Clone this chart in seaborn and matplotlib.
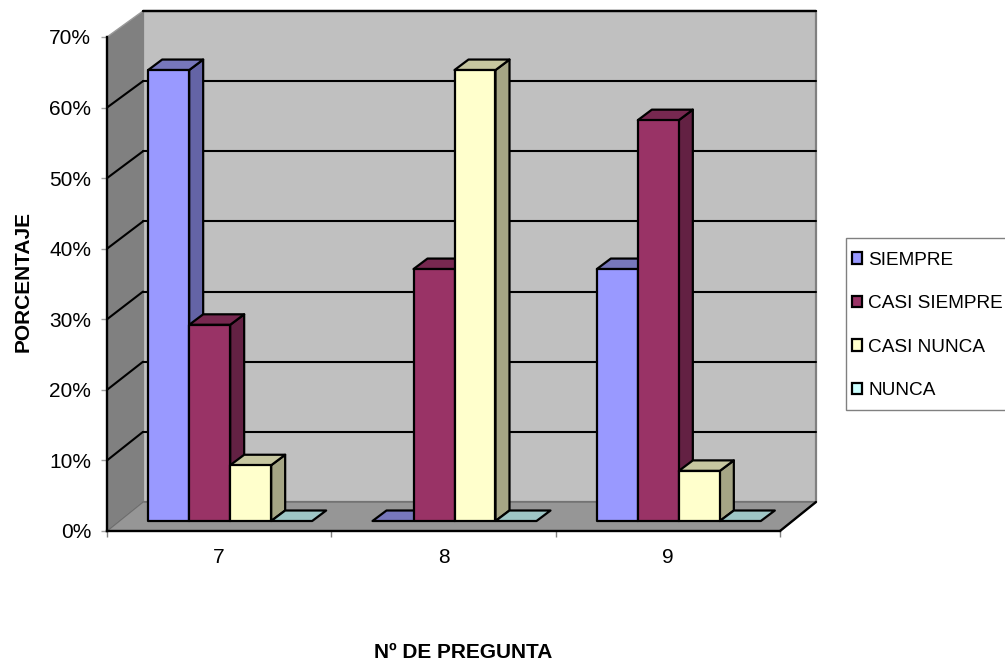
import matplotlib
matplotlib.use("Agg")
import matplotlib.pyplot as plt
import pandas as pd
import seaborn as sns
from matplotlib.lines import Line2D
from matplotlib.patches import Polygon, Rectangle
from matplotlib.transforms import IdentityTransform

preguntas = ["7", "8", "9"]
respuestas = ["SIEMPRE", "CASI SIEMPRE", "CASI NUNCA", "NUNCA"]
siempre = [63.9, 0, 35.7]
casi_siempre = [27.8, 35.7, 56.8]
casi_nunca = [7.9, 63.9, 7.1]
nunca = [0, 0, 0]
y_ticks = [0, 10, 20, 30, 40, 50, 60, 70]

front_colors = ["#9999FF", "#993366", "#FFFFCC", "#CCFFFF"]
top_colors = ["#7777BB", "#772850", "#C6C6A0", "#9EC6C6"]
side_colors = ["#6464A6", "#632143", "#A5A585", "#85A5A5"]

W, H = 1005, 661
# how far the bar front and the back wall sit behind the axis plane (pixels)
BAR_DX, BAR_DY = 11, 10
BAR_DEPTH_X, BAR_DEPTH_Y = 14, 10.5
WALL_DX = 36

sns.set_theme(style="white")
plt.rcParams["font.family"] = ["Liberation Sans", "DejaVu Sans"]
plt.rcParams["text.color"] = "black"

df = pd.DataFrame(
    {
        "pregunta": preguntas * 4,
        "respuesta": [r for r in respuestas for _ in preguntas],
        "valor": siempre + casi_siempre + casi_nunca + nunca,
    }
)

fig = plt.figure(figsize=(W / 100, H / 100), dpi=100, facecolor="white")
ax = fig.add_axes([107 / W, (H - 531) / H, 673 / W, 494 / H])

ax = sns.barplot(
    df,
    x="pregunta",
    y="valor",
    hue="respuesta",
    order=preguntas,
    hue_order=respuestas,
    palette=front_colors,
    width=0.731,
    gap=0,
    saturation=1,
    ax=ax,
)
ax.set_xlim(-0.5, 2.5)
ax.set_ylim(0, 70)
ax.patch.set_visible(False)


def px(x, y):
    return ax.transData.transform((x, y))


def wall(t):
    # slight perspective: the wall is a bit less offset at the top
    return (WALL_DX, 29 - 3 * t / 70)


def face(points, color, z, edge="black", lw=1.6):
    ax.add_patch(
        Polygon(
            points,
            closed=True,
            facecolor=color,
            edgecolor=edge,
            linewidth=lw,
            joinstyle="round",
            transform=IdentityTransform(),
            clip_on=False,
            zorder=z,
        )
    )


def line(a, b, color, z, lw=1.5):
    ax.add_line(
        Line2D(
            [a[0], b[0]],
            [a[1], b[1]],
            color=color,
            linewidth=lw,
            transform=IdentityTransform(),
            clip_on=False,
            zorder=z,
        )
    )


# walls and floor
x0, x1 = ax.get_xlim()
y0, y1 = ax.get_ylim()
fl, fr, tl = px(x0, y0), px(x1, y0), px(x0, y1)
bl, br = fl + wall(y0), fr + wall(y0)
tb, tr = tl + wall(y1), px(x1, y1) + wall(y1)
face([fl, tl, tb, bl], "#808080", 0.1, edge="#9a9a9a", lw=1)
face([bl, tb, tr, br], "#C0C0C0", 0.2, edge="#808080", lw=1.6)
face([fl, fr, br, bl], "#969696", 0.3, edge="#6e6e6e", lw=1)
line(fr, br, "black", 0.4, lw=1.7)
line(tb, tr, "black", 0.4, lw=1.7)

# gridlines run along the left wall and then the back wall
for t in y_ticks[1:-1]:
    a = px(x0, t)
    b = a + wall(t)
    c = px(x1, t) + wall(t)
    line(a, b, "black", 0.5)
    line(b, c, "black", 0.5)

# give each bar its side and top, left to right within each group
z = 2.0
for g in range(len(preguntas)):
    for h, cont in enumerate(ax.containers):
        bar = cont.patches[g]
        bx, bw, bh = bar.get_x(), bar.get_width(), bar.get_height()
        off = (BAR_DX, BAR_DY)
        depth = (BAR_DEPTH_X, BAR_DEPTH_Y)
        a = px(bx, 0) + off
        b = px(bx + bw, 0) + off
        c = px(bx + bw, bh) + off
        d = px(bx, bh) + off
        if bh > 0:
            face([b, c, c + depth, b + depth], side_colors[h], z)
            z += 0.01
        face([d, c, c + depth, d + depth], top_colors[h], z)
        z += 0.01
        if bh > 0:
            face([a, b, c, d], front_colors[h], z)
            z += 0.01
        bar.set_visible(False)

# axis lines and ticks
sns.despine(ax=ax, top=True, right=True)
for side in ["left", "bottom"]:
    ax.spines[side].set_color("black")
    ax.spines[side].set_linewidth(1.7)
    ax.spines[side].set_zorder(1.5)

ax.set_yticks(y_ticks)
ax.set_yticklabels([f"{t}%" for t in y_ticks], fontsize=15, color="black")
ax.tick_params(axis="y", left=True, length=4.5, width=1, color="#a0a0a0", pad=7)
ax.set_xticks(range(len(preguntas)))
ax.set_xticklabels(preguntas, fontsize=15, color="black")
ax.set_xticks([-0.5, 0.5, 1.5, 2.5], minor=True)
ax.tick_params(axis="x", which="major", bottom=False, pad=6.4)
ax.tick_params(axis="x", which="minor", bottom=True, length=4, width=1, color="#808080")

ax.set_xlabel("Nº DE PREGUNTA", fontsize=15, fontweight="bold", color="black")
ax.set_ylabel("PORCENTAJE", fontsize=15, fontweight="bold", color="black")
ax.xaxis.set_label_coords((463 - 107) / 673, -(652 - 531) / 494, transform=ax.transAxes)
ax.xaxis.label.set_va("center")
ax.yaxis.set_label_coords((23 - 107) / 673, (531 - 281) / 494, transform=ax.transAxes)
ax.yaxis.label.set_va("center")

# legend box runs off the right edge of the picture
fig.add_artist(
    Rectangle(
        (846 / W, (H - 410) / H),
        170 / W,
        172 / H,
        transform=fig.transFigure,
        facecolor="white",
        edgecolor="#808080",
        linewidth=1,
        zorder=-1,
    )
)
sns.move_legend(
    ax,
    loc="upper left",
    bbox_to_anchor=(852 / W, (H - 251.8) / H),
    bbox_transform=fig.transFigure,
    title=None,
    frameon=False,
    fontsize=13.7,
    borderaxespad=0,
    borderpad=0,
    labelspacing=1.39,
    handlelength=0.55,
    handleheight=0.55,
    handletextpad=0.3,
)
leg = ax.get_legend()
leg.set_zorder(10)
for handle in leg.get_patches():
    handle.set_edgecolor("black")
    handle.set_linewidth(1.6)
for text in leg.get_texts():
    text.set_color("black")

fig.savefig("out.png", dpi=100, facecolor="white")
